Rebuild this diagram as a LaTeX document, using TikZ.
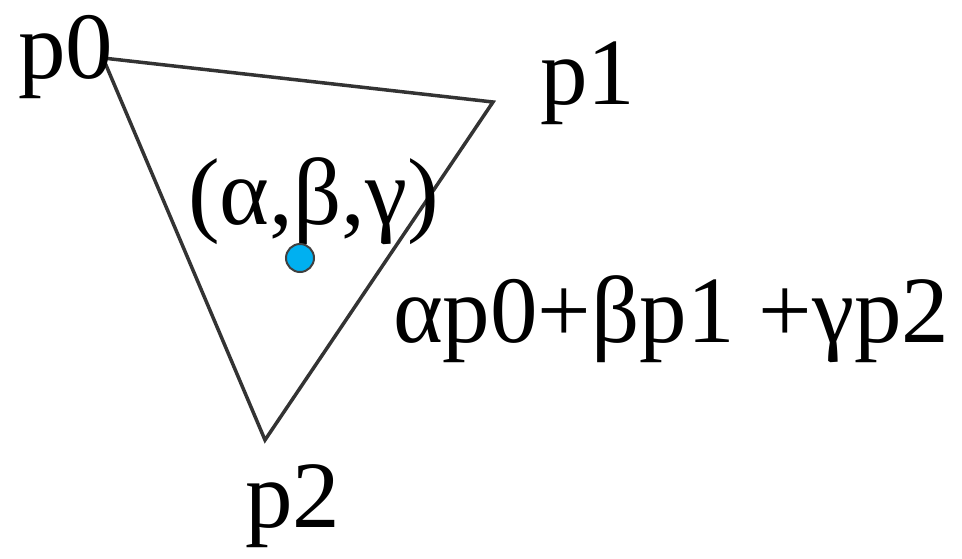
\documentclass[tikz,border=0pt]{standalone}
\usepackage{fontspec}
\setmainfont{Liberation Serif}
\definecolor{dotblue}{RGB}{0,176,240}
\begin{document}
\begin{tikzpicture}[x=1pt,y=-1pt,
  lbl/.style={anchor=base west,inner sep=0pt,font=\fontsize{95}{95}\selectfont},
  edge/.style={draw=black!80,line width=3.5pt,line join=miter},
  dot/.style={circle,fill=dotblue,draw=black!75,line width=2pt,minimum size=28pt,inner sep=0pt}]
\useasboundingbox (0,0) rectangle (962,558);
\coordinate (v0) at (103,58);
\coordinate (v1) at (493,102);
\coordinate (v2) at (265,440);
\draw[edge] (v0) -- (v1) -- (v2) -- cycle;
\node[lbl] (p0) at (18,78) {p0};
\node[lbl] (p1) at (540,104) {p1};
\node[lbl] (p2) at (245,527) {p2};
\node[lbl] (abg) at (188,224) {(α,β,γ)};
\node[lbl] (sum) at (393,342) {αp0+βp1 +γp2};
\node[dot] (pt) at (300,258) {};
\end{tikzpicture}
\end{document}
